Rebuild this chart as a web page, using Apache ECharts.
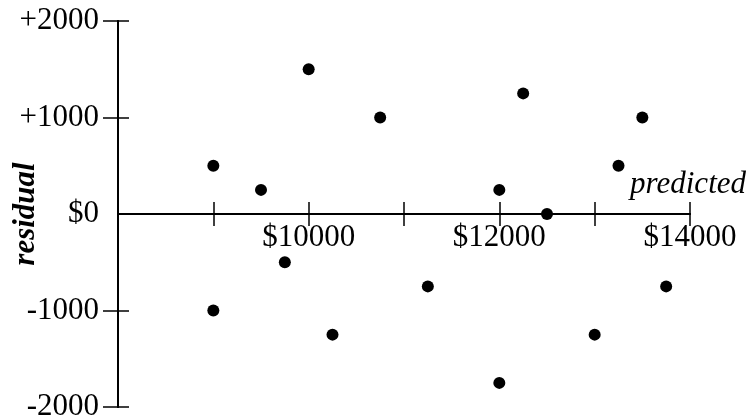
<!DOCTYPE html>
<html lang="en">
<head>
    <meta charset="UTF-8">
    <title>Residual plot</title>
</head>
<body style="margin:0;">
<div id="echart" style="width: 746px; height: 420px;"></div>

<script src="https://cdn.jsdelivr.net/npm/echarts@6/dist/echarts.min.js"></script>
<script>
    // predicted price and residual of each point
    var predicted = [9000, 9000, 9500, 9750, 10000, 10250, 10750, 11250, 12000, 12000, 12250, 12500, 13000, 13250, 13500, 13750];
    var residual = [500, -1000, 250, -500, 1500, -1250, 1000, -750, 250, -1750, 1250, 0, -1250, 500, 1000, -750];
    var xTicks = [9000, 10000, 11000, 12000, 13000, 14000];
    var xLabels = [10000, 12000, 14000];
    var yTicks = [-2000, -1000, 1000, 2000];
    var yLabels = [-2000, -1000, 0, 1000, 2000];

    var points = [];
    for (var i = 0; i < predicted.length; i++) {
        points.push([predicted[i], residual[i]]);
    }

    var font = 'Liberation Serif';
    var lineStyle = {color: '#000', width: 2};
    var tickLine = {color: '#000', width: 1.5};
    var gridLeft = 118, gridRight = 56, gridTop = 21, gridBottom = 13;
    var plotW = 746 - gridLeft - gridRight;
    var plotH = 420 - gridTop - gridBottom;

    function xAxisBase() {
        return {type: 'value', min: 8000, max: 14000, interval: 1000, position: 'bottom', splitLine: {show: false}};
    }
    function yAxisBase() {
        return {type: 'value', min: -2000, max: 2000, interval: 1000, splitLine: {show: false}};
    }

    // zero line with ticks crossing it: one axis ticks down, one ticks up
    var xDown = xAxisBase();
    xDown.axisLine = {show: true, onZero: true, onZeroAxisIndex: 0, lineStyle: lineStyle};
    xDown.axisTick = {show: true, length: 12, customValues: xTicks, lineStyle: tickLine};
    xDown.axisLabel = {show: false};
    xDown.name = 'predicted';
    xDown.nameLocation = 'end';
    xDown.nameGap = 56;
    xDown.nameMoveOverlap = false;
    xDown.nameTextStyle = {
        fontFamily: font, fontSize: 31, fontStyle: 'italic', color: '#000',
        align: 'right', verticalAlign: 'bottom', padding: [0, 0, 14, 0]
    };

    var xUp = xAxisBase();
    xUp.axisLine = {show: true, onZero: true, onZeroAxisIndex: 0, lineStyle: lineStyle};
    xUp.axisTick = {show: true, inside: true, length: 12, customValues: xTicks, lineStyle: tickLine};
    xUp.axisLabel = {show: false};

    // labels just under the zero line
    var xLab = xAxisBase();
    xLab.offset = -plotH / 2;
    xLab.axisLine = {show: false, onZero: false};
    xLab.axisTick = {show: false};
    xLab.axisLabel = {
        customValues: xLabels, margin: 8, color: '#000', fontFamily: font, fontSize: 31,
        formatter: function (v) { return '$' + v; }
    };

    var yLeft = yAxisBase();
    yLeft.position = 'left';
    yLeft.axisLine = {show: true, onZero: false, lineStyle: lineStyle};
    yLeft.axisTick = {show: true, length: 15, customValues: yTicks, lineStyle: tickLine};
    yLeft.axisLabel = {
        customValues: yLabels, margin: 19, color: '#000', fontFamily: font, fontSize: 31,
        formatter: function (v) {
            if (v === 0) return '$0';
            return v > 0 ? '+' + v : '' + v;
        }
    };
    yLeft.name = 'residual';
    yLeft.nameLocation = 'middle';
    yLeft.nameRotate = 90;
    yLeft.nameGap = 77;
    yLeft.nameMoveOverlap = false;
    yLeft.nameTextStyle = {fontFamily: font, fontSize: 31, fontStyle: 'italic', fontWeight: 'bold', color: '#000'};

    // right-pointing ticks on the same vertical line (the one at 0 hides in the zero line)
    var yRight = yAxisBase();
    yRight.position = 'right';
    yRight.offset = -plotW;
    yRight.axisLine = {show: true, onZero: false, lineStyle: lineStyle};
    yRight.axisTick = {show: true, length: 11, lineStyle: tickLine};
    yRight.axisLabel = {show: false};

    var myChart = echarts.init(document.getElementById('echart'));
    var option = {
        animation: false,
        grid: {left: gridLeft, right: gridRight, top: gridTop, bottom: gridBottom, containLabel: false, outerBoundsMode: 'none'},
        xAxis: [xDown, xUp, xLab],
        yAxis: [yLeft, yRight],
        series: [{
            type: 'scatter',
            data: points,
            symbolSize: 12,
            itemStyle: {color: '#000', opacity: 1}
        }]
    };
    myChart.setOption(option);
</script>
</body>
</html>
